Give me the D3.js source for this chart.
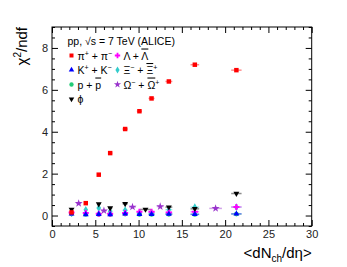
<!DOCTYPE html>
<html>
<head>
<meta charset="utf-8">
<script src="https://cdn.jsdelivr.net/npm/d3@7"></script>
<style>
  body { margin: 0; background: #fff; }
  text { font-family: "Liberation Sans", Arial, sans-serif; }
  .tick text { fill: #222; font-size: 11px; }
</style>
</head>
<body>
<script>
/* DATA */
var mult     = [21.3, 16.5, 13.5, 11.5, 10.1, 8.45, 6.72, 5.40, 3.90, 2.26];
var multErr  = [0.6, 0.5, 0.4, 0.35, 0.3, 0.3, 0.25, 0.2, 0.15, 0.1];

var pion     = [6.94, 7.20, 6.40, 5.59, 4.98, 4.13, 2.98, 1.95, 0.59, 0.15];
var kaon     = [0.08, 0.06, 0.07, 0.06, 0.06, 0.08, 0.05, 0.06, 0.05, 0.08];
var proton   = [0.07, 0.05, 0.06, 0.05, 0.05, 0.07, 0.05, 0.05, 0.05, 0.07];
var lambda   = [0.41, 0.18, 0.15, 0.18, 0.18, 0.12, 0.08, 0.08, 0.12, 0.15];
var xi       = [0.40, 0.40, 0.28, 0.12, 0.12, 0.25, 0.20, 0.36, 0.27, 0.12];

var phiMult  = [21.3, 16.5, 13.5, 10.8, 8.45, 6.72, 5.40, 2.26];
var phiErr   = [0.6, 0.5, 0.4, 0.6, 0.3, 0.25, 0.2, 0.1];
var phi      = [1.05, 0.32, 0.40, 0.29, 0.56, 0.36, 0.55, 0.29];

var omegaMult = [18.9, 12.5, 9.3, 6.0, 3.08];
var omegaErr  = [0.73, 0.4, 0.4, 0.35, 0.3];
var omega     = [0.34, 0.43, 0.41, 0.23, 0.58];

var xTicks = [0, 5, 10, 15, 20, 25, 30];
var yTicks = [0, 2, 4, 6, 8];

/* VARIABLES */
var w = 347, h = 267,
    x0 = 52, x1 = 311.7,
    y0 = 226, y1 = 27;

var x = d3.scaleLinear().domain([0, 30]).range([x0, x1]);
var y = d3.scaleLinear().domain([-0.5, 9]).range([y0, y1]);

var svg = d3.select('body').append('svg')
  .attr('width', w).attr('height', h);

/* AXES */
var minorX = d3.range(0, 31, 1).filter(function(v){ return v % 5 !== 0; });
var minorY = d3.range(-0.5, 9.01, 0.5).filter(function(v){ return v % 2 !== 0; });

function axisGroup(axis, tx, ty){
  var g = svg.append('g').attr('transform', 'translate(' + (tx || 0) + ',' + (ty || 0) + ')').call(axis);
  g.select('.domain').remove();
  g.selectAll('line').attr('stroke', '#000');
  return g;
}

// bottom
axisGroup(d3.axisBottom(x).tickValues(xTicks).tickSize(-6).tickPadding(4), 0, y0)
  .selectAll('text').attr('dy', '0.75em');
axisGroup(d3.axisBottom(x).tickValues(minorX).tickSize(-3).tickFormat(''), 0, y0);
// top
axisGroup(d3.axisTop(x).tickValues(xTicks).tickSize(-6).tickFormat(''), 0, y1);
axisGroup(d3.axisTop(x).tickValues(minorX).tickSize(-3).tickFormat(''), 0, y1);
// left
axisGroup(d3.axisLeft(y).tickValues(yTicks).tickSize(-6).tickPadding(4), x0, 0);
axisGroup(d3.axisLeft(y).tickValues(minorY).tickSize(-3).tickFormat(''), x0, 0);
// right
axisGroup(d3.axisRight(y).tickValues(yTicks).tickSize(-6).tickFormat(''), x1, 0);
axisGroup(d3.axisRight(y).tickValues(minorY).tickSize(-3).tickFormat(''), x1, 0);

svg.append('rect')
  .attr('x', x0).attr('y', y1)
  .attr('width', x1 - x0).attr('height', y0 - y1)
  .attr('fill', 'none').attr('stroke', '#000').attr('stroke-width', 1);

/* TITLES */
var yt = svg.append('text')
  .attr('transform', 'translate(27,' + y1 + ') rotate(-90)')
  .attr('text-anchor', 'end')
  .attr('font-size', 15);
yt.append('tspan').text('χ');
yt.append('tspan').attr('font-size', 10).attr('dy', -6).text('2');
yt.append('tspan').attr('dy', 6).text('/ndf');

var xt = svg.append('text')
  .attr('x', x1).attr('y', 258)
  .attr('text-anchor', 'end')
  .attr('font-size', 15);
xt.append('tspan').text('<dN');
xt.append('tspan').attr('font-size', 10).attr('dy', 4).text('ch');
xt.append('tspan').attr('dy', -4).text('/dη>');

/* SERIES */
var series = [
  { xs: mult, xe: multErr, ys: proton, color: '#22cc77', sym: d3.symbolCircle,   size: 18 },
  { xs: mult, xe: multErr, ys: xi,     color: '#33cccc', sym: d3.symbolDiamond,  size: 18 },
  { xs: mult, xe: multErr, ys: lambda, color: '#ff00ff', sym: d3.symbolCross,    size: 20 },
  { xs: phiMult, xe: phiErr, ys: phi,  color: '#000000', sym: d3.symbolTriangle, size: 15, rot: 180 },
  { xs: omegaMult, xe: omegaErr, ys: omega, color: '#9933cc', sym: d3.symbolStar, size: 20 },
  { xs: mult, xe: multErr, ys: kaon,   color: '#0000ff', sym: d3.symbolTriangle, size: 15 },
  { xs: mult, xe: multErr, ys: pion,   color: '#ff0000', sym: d3.symbolSquare,   size: 20 }
];

series.forEach(function(s){
  var pts = s.xs.map(function(v, i){ return { x: v, e: s.xe[i], y: s.ys[i] }; });
  var g = svg.append('g');
  g.selectAll('line').data(pts).enter().append('line')
    .attr('x1', function(d){ return x(d.x - d.e); })
    .attr('x2', function(d){ return x(d.x + d.e); })
    .attr('y1', function(d){ return y(d.y); })
    .attr('y2', function(d){ return y(d.y); })
    .attr('stroke', s.color).attr('stroke-opacity', 0.45).attr('stroke-width', 1.5);
  g.selectAll('path').data(pts).enter().append('path')
    .attr('d', d3.symbol().type(s.sym).size(s.size))
    .attr('transform', function(d){
      return 'translate(' + x(d.x) + ',' + y(d.y) + ')' + (s.rot ? ' rotate(' + s.rot + ')' : '');
    })
    .attr('fill', s.color);
});

/* LEGEND */
svg.append('text').attr('x', 67.5).attr('y', 44.5).attr('font-size', 10.5)
  .text('pp, √s = 7 TeV (ALICE)');

var legend = [
  { col: 0, row: 0, color: '#ff0000', sym: d3.symbolSquare,   size: 16, parts: [['π'], ['+', 'sup'], [' + π'], ['−', 'sup']] },
  { col: 0, row: 1, color: '#0000ff', sym: d3.symbolTriangle, size: 13, parts: [['K'], ['+', 'sup'], [' + K'], ['−', 'sup']] },
  { col: 0, row: 2, color: '#22cc77', sym: d3.symbolCircle,   size: 15, parts: [['p + '], ['p', 'bar']] },
  { col: 0, row: 3, color: '#000000', sym: d3.symbolTriangle, size: 13, rot: 180, parts: [['ϕ']] },
  { col: 1, row: 0, color: '#ff00ff', sym: d3.symbolCross,    size: 16, parts: [['Λ + '], ['Λ', 'bar']] },
  { col: 1, row: 1, color: '#33cccc', sym: d3.symbolDiamond,  size: 15, parts: [['Ξ'], ['−', 'sup'], [' + '], ['Ξ', 'bar'], ['+', 'sup']] },
  { col: 1, row: 2, color: '#9933cc', sym: d3.symbolStar,     size: 16, parts: [['Ω'], ['−', 'sup'], [' + '], ['Ω', 'bar'], ['+', 'sup']] }
];

legend.forEach(function(l){
  var lx = l.col ? 117.5 : 71.5,
      ly = 55.5 + l.row * 14.5;
  svg.append('path')
    .attr('d', d3.symbol().type(l.sym).size(l.size))
    .attr('transform', 'translate(' + lx + ',' + ly + ')' + (l.rot ? ' rotate(' + l.rot + ')' : ''))
    .attr('fill', l.color);
  var t = svg.append('text').attr('x', lx + 6).attr('y', ly + 4).attr('font-size', 10.5);
  var up = false;
  l.parts.forEach(function(p){
    var sp = t.append('tspan').text(p[0]);
    if (p[1] === 'sup') {
      sp.attr('font-size', 7).attr('dy', up ? 0 : -4);
      up = true;
    } else {
      if (up) sp.attr('dy', 4);
      up = false;
      if (p[1] === 'bar') sp.style('text-decoration', 'overline');
    }
  });
});
</script>
</body>
</html>
